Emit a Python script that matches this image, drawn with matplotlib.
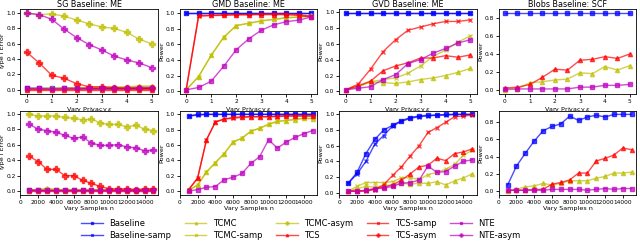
import numpy as np
import matplotlib
matplotlib.use('Agg')
import matplotlib.pyplot as plt

eps = [0, 0.5, 1, 1.5, 2, 2.5, 3, 3.5, 4, 4.5, 5]
n_samples = [1000, 2000, 3000, 4000, 5000, 6000, 7000, 8000, 9000, 10000,
             11000, 12000, 13000, 14000, 15000]

# SG Baseline: ME (type I error vs privacy)
sg_eps = {
    'Baseline':      [0.02, 0.02, 0.02, 0.02, 0.02, 0.02, 0.02, 0.02, 0.02, 0.02, 0.02],
    'Baseline-samp': [0.02, 0.02, 0.02, 0.02, 0.02, 0.02, 0.02, 0.02, 0.02, 0.02, 0.02],
    'TCMC':          [0.01, 0.02, 0.02, 0.02, 0.03, 0.03, 0.03, 0.04, 0.04, 0.05, 0.05],
    'TCMC-samp':     [0.01, 0.01, 0.02, 0.02, 0.02, 0.03, 0.03, 0.03, 0.03, 0.04, 0.04],
    'TCMC-asym':     [1.00, 0.98, 0.99, 0.96, 0.91, 0.86, 0.82, 0.80, 0.75, 0.66, 0.60],
    'TCS':           [0.00, 0.00, 0.00, 0.00, 0.00, 0.00, 0.00, 0.00, 0.00, 0.00, 0.00],
    'TCS-samp':      [0.01, 0.01, 0.01, 0.01, 0.01, 0.01, 0.01, 0.01, 0.01, 0.01, 0.01],
    'TCS-asym':      [0.49, 0.35, 0.19, 0.15, 0.08, 0.04, 0.04, 0.03, 0.02, 0.02, 0.02],
    'NTE':           [0.02, 0.02, 0.01, 0.02, 0.02, 0.02, 0.02, 0.02, 0.02, 0.03, 0.03],
    'NTE-asym':      [1.00, 0.98, 0.92, 0.79, 0.68, 0.59, 0.52, 0.44, 0.39, 0.35, 0.29],
}

# GMD Baseline: ME (power vs privacy)
gmd_eps = {
    'Baseline':      [1.00, 1.00, 1.00, 1.00, 1.00, 1.00, 1.00, 1.00, 1.00, 1.00, 1.00],
    'Baseline-samp': [1.00, 1.00, 1.00, 1.00, 1.00, 1.00, 1.00, 1.00, 1.00, 1.00, 1.00],
    'TCMC':          [0.02, 0.19, 0.46, 0.69, 0.84, 0.87, 0.90, 0.92, 0.94, 0.95, 0.97],
    'TCMC-samp':     [0.02, 0.19, 0.46, 0.69, 0.84, 0.87, 0.90, 0.92, 0.94, 0.95, 0.96],
    'TCS':           [0.02, 0.97, 0.97, 0.97, 0.98, 0.98, 0.98, 0.98, 0.98, 0.97, 0.95],
    'TCS-samp':      [0.02, 0.96, 0.97, 0.98, 0.98, 0.98, 0.99, 0.99, 0.99, 0.98, 0.96],
    'NTE':           [0.02, 0.05, 0.13, 0.32, 0.53, 0.67, 0.78, 0.85, 0.89, 0.91, 0.95],
}

# GVD Baseline: ME (power vs privacy)
gvd_eps = {
    'Baseline':      [0.985, 0.985, 0.985, 0.985, 0.985, 0.985, 0.985, 0.985, 0.985, 0.985, 0.985],
    'Baseline-samp': [0.985, 0.985, 0.985, 0.985, 0.985, 0.985, 0.985, 0.985, 0.985, 0.985, 0.985],
    'TCMC':          [0.02, 0.06, 0.12, 0.11, 0.10, 0.12, 0.15, 0.17, 0.20, 0.24, 0.29],
    'TCMC-samp':     [0.02, 0.06, 0.12, 0.15, 0.17, 0.23, 0.32, 0.44, 0.52, 0.62, 0.70],
    'TCS':           [0.02, 0.07, 0.13, 0.26, 0.32, 0.36, 0.42, 0.42, 0.45, 0.43, 0.46],
    'TCS-samp':      [0.02, 0.09, 0.28, 0.50, 0.65, 0.77, 0.81, 0.85, 0.88, 0.88, 0.90],
    'NTE':           [0.02, 0.04, 0.06, 0.15, 0.21, 0.35, 0.40, 0.48, 0.54, 0.61, 0.65],
}

# Blobs Baseline: SCF (power vs privacy)
blobs_eps = {
    'Baseline':      [0.855, 0.855, 0.855, 0.855, 0.855, 0.855, 0.855, 0.855, 0.855, 0.855, 0.855],
    'TCMC':          [0.00, 0.01, 0.08, 0.09, 0.11, 0.12, 0.19, 0.18, 0.26, 0.22, 0.27],
    'TCS':           [0.02, 0.03, 0.06, 0.14, 0.23, 0.22, 0.33, 0.34, 0.37, 0.35, 0.40],
    'NTE':           [0.01, 0.01, 0.01, 0.01, 0.01, 0.01, 0.03, 0.03, 0.05, 0.05, 0.06],
}

# SG (type I error vs samples)
sg_n = {
    'Baseline':      [0.02, 0.01, 0.01, 0.01, 0.01, 0.01, 0.01, 0.01, 0.01, 0.01, 0.01, 0.01, 0.01, 0.01, 0.01],
    'Baseline-samp': [0.01, 0.01, 0.01, 0.01, 0.01, 0.01, 0.01, 0.01, 0.01, 0.01, 0.01, 0.01, 0.01, 0.01, 0.01],
    'TCMC':          [0.01, 0.02, 0.04, 0.02, 0.02, 0.02, 0.02, 0.02, 0.02, 0.02, 0.02, 0.02, 0.02, 0.02, 0.02],
    'TCMC-samp':     [0.01, 0.01, 0.02, 0.01, 0.01, 0.01, 0.01, 0.01, 0.01, 0.01, 0.01, 0.01, 0.01, 0.01, 0.01],
    'TCMC-asym':     [0.99, 0.97, 0.97, 0.97, 0.95, 0.94, 0.92, 0.93, 0.88, 0.86, 0.86, 0.83, 0.85, 0.80, 0.78],
    'TCS':           [0.00, 0.00, 0.00, 0.00, 0.00, 0.00, 0.00, 0.00, 0.00, 0.00, 0.00, 0.00, 0.00, 0.00, 0.00],
    'TCS-samp':      [0.01, 0.01, 0.01, 0.01, 0.01, 0.01, 0.01, 0.01, 0.01, 0.01, 0.01, 0.01, 0.01, 0.01, 0.01],
    'TCS-asym':      [0.45, 0.38, 0.28, 0.28, 0.20, 0.20, 0.14, 0.10, 0.06, 0.03, 0.03, 0.03, 0.02, 0.03, 0.03],
    'NTE':           [0.01, 0.01, 0.01, 0.01, 0.01, 0.01, 0.01, 0.01, 0.01, 0.01, 0.01, 0.01, 0.01, 0.01, 0.01],
    'NTE-asym':      [0.86, 0.80, 0.78, 0.76, 0.72, 0.68, 0.70, 0.62, 0.59, 0.59, 0.60, 0.57, 0.56, 0.52, 0.53],
}

# GMD (power vs samples)
gmd_n = {
    'Baseline':      [0.98, 1.00, 1.00, 1.00, 1.00, 1.00, 1.00, 1.00, 1.00, 1.00, 1.00, 1.00, 1.00, 1.00, 1.00],
    'Baseline-samp': [0.98, 0.99, 1.00, 1.00, 1.00, 1.00, 1.00, 1.00, 1.00, 1.00, 1.00, 1.00, 1.00, 1.00, 1.00],
    'TCMC':          [0.01, 0.08, 0.25, 0.37, 0.49, 0.64, 0.69, 0.78, 0.82, 0.87, 0.91, 0.92, 0.93, 0.95, 0.94],
    'TCMC-samp':     [0.01, 0.08, 0.25, 0.37, 0.49, 0.64, 0.69, 0.78, 0.82, 0.87, 0.91, 0.92, 0.94, 0.95, 0.95],
    'TCS':           [0.02, 0.17, 0.67, 0.90, 0.94, 0.96, 0.97, 0.97, 0.97, 0.97, 0.98, 0.98, 0.98, 0.98, 0.98],
    'TCS-samp':      [0.02, 0.17, 0.67, 0.90, 0.94, 0.95, 0.96, 0.97, 0.97, 0.97, 0.97, 0.98, 0.98, 0.98, 0.98],
    'NTE':           [0.00, 0.02, 0.05, 0.06, 0.15, 0.18, 0.23, 0.36, 0.45, 0.67, 0.56, 0.64, 0.70, 0.75, 0.79],
}

# GVD (power vs samples)
gvd_n = {
    'Baseline':      [0.12, 0.26, 0.50, 0.68, 0.80, 0.86, 0.92, 0.96, 0.98, 0.99, 0.99, 1.00, 1.00, 1.00, 1.00],
    'Baseline-samp': [0.12, 0.24, 0.40, 0.62, 0.73, 0.85, 0.91, 0.95, 0.97, 0.98, 0.99, 0.99, 1.00, 1.00, 1.00],
    'TCMC':          [0.02, 0.05, 0.08, 0.07, 0.09, 0.10, 0.12, 0.11, 0.12, 0.12, 0.14, 0.10, 0.15, 0.19, 0.24],
    'TCMC-samp':     [0.02, 0.08, 0.13, 0.13, 0.13, 0.14, 0.19, 0.19, 0.17, 0.23, 0.26, 0.30, 0.36, 0.48, 0.54],
    'TCS':           [0.02, 0.02, 0.03, 0.05, 0.07, 0.10, 0.16, 0.24, 0.33, 0.35, 0.44, 0.41, 0.50, 0.52, 0.56],
    'TCS-samp':      [0.02, 0.02, 0.02, 0.04, 0.10, 0.22, 0.33, 0.47, 0.60, 0.77, 0.83, 0.90, 0.97, 0.98, 0.99],
    'NTE':           [0.02, 0.02, 0.03, 0.05, 0.06, 0.08, 0.12, 0.13, 0.16, 0.34, 0.26, 0.27, 0.34, 0.40, 0.42],
}

# Blobs (power vs samples)
blobs_n = {
    'Baseline':      [0.07, 0.29, 0.44, 0.58, 0.70, 0.75, 0.78, 0.87, 0.82, 0.86, 0.88, 0.86, 0.89, 0.89, 0.89],
    'TCMC':          [0.00, 0.02, 0.05, 0.06, 0.09, 0.07, 0.09, 0.12, 0.12, 0.12, 0.15, 0.17, 0.21, 0.21, 0.22],
    'TCS':           [0.01, 0.01, 0.01, 0.02, 0.02, 0.08, 0.10, 0.13, 0.21, 0.21, 0.35, 0.38, 0.42, 0.50, 0.48],
    'NTE':           [0.01, 0.01, 0.01, 0.01, 0.01, 0.02, 0.02, 0.02, 0.02, 0.01, 0.02, 0.03, 0.02, 0.03, 0.03],
}

titles = ['SG Baseline: ME', 'GMD Baseline: ME', 'GVD Baseline: ME', 'Blobs Baseline: SCF']
ylabels = ['Type I Error', 'Power', 'Power', 'Power']

labels = ['Baseline', 'Baseline-samp', 'TCMC', 'TCMC-samp', 'TCMC-asym',
          'TCS', 'TCS-samp', 'TCS-asym', 'NTE', 'NTE-asym']
styles = {
    'Baseline':      ('#0000ff', 's'),
    'Baseline-samp': ('#0000ff', 'x'),
    'TCMC':          ('#bfbf00', '^'),
    'TCMC-samp':     ('#bfbf00', 'x'),
    'TCMC-asym':     ('#bfbf00', 'P'),
    'TCS':           ('#ff0000', '^'),
    'TCS-samp':      ('#ff0000', 'x'),
    'TCS-asym':      ('#ff0000', 'P'),
    'NTE':           ('#bf00bf', 's'),
    'NTE-asym':      ('#bf00bf', 'P'),
}
ms = {'s': 2.8, 'x': 3, '^': 3, 'P': 4}

fig, axes = plt.subplots(2, 4, figsize=(6.4, 2.44), dpi=100)
fig.subplots_adjust(left=0.032, right=0.994, top=0.962, bottom=0.201,
                    wspace=0.16, hspace=0.2)

top = [sg_eps, gmd_eps, gvd_eps, blobs_eps]
bottom = [sg_n, gmd_n, gvd_n, blobs_n]

def draw(ax, x, data):
    for lab in labels:
        if lab not in data:
            continue
        c, m = styles[lab]
        ax.plot(x, data[lab], color=c, marker=m, markersize=ms[m],
                linewidth=1, alpha=0.7, label=lab)
    ax.tick_params(labelsize=4.2, length=2, width=0.6, pad=1.5)
    for s in ax.spines.values():
        s.set_linewidth(0.6)

for i in range(4):
    ax = axes[0, i]
    draw(ax, eps, top[i])
    ax.set_title(titles[i], fontsize=5.8, pad=1.5)
    ax.set_xlabel(r'Vary Privacy $\varepsilon$', fontsize=4.6, labelpad=1)
    ax.set_ylabel(ylabels[i], fontsize=4.6, labelpad=1)
    ax.set_xticks([0, 1, 2, 3, 4, 5])

    ax = axes[1, i]
    draw(ax, n_samples, bottom[i])
    ax.set_xlabel('Vary Samples n', fontsize=4.6, labelpad=1)
    ax.set_ylabel(ylabels[i], fontsize=4.6, labelpad=1)
    ax.set_xlim(0, 15500)
    ax.set_xticks(range(0, 15000, 2000))

# legend built from the type I error panel, which has all series
handles, labs = axes[0, 0].get_legend_handles_labels()
fig.legend(handles, labs, loc='lower left', ncol=5, fontsize=6,
           frameon=False, bbox_to_anchor=(0.115, -0.015), handlelength=2.6,
           handletextpad=0.8, columnspacing=1.6, labelspacing=0.35,
           markerscale=0.6)

fig.savefig('out.png', dpi=100)
